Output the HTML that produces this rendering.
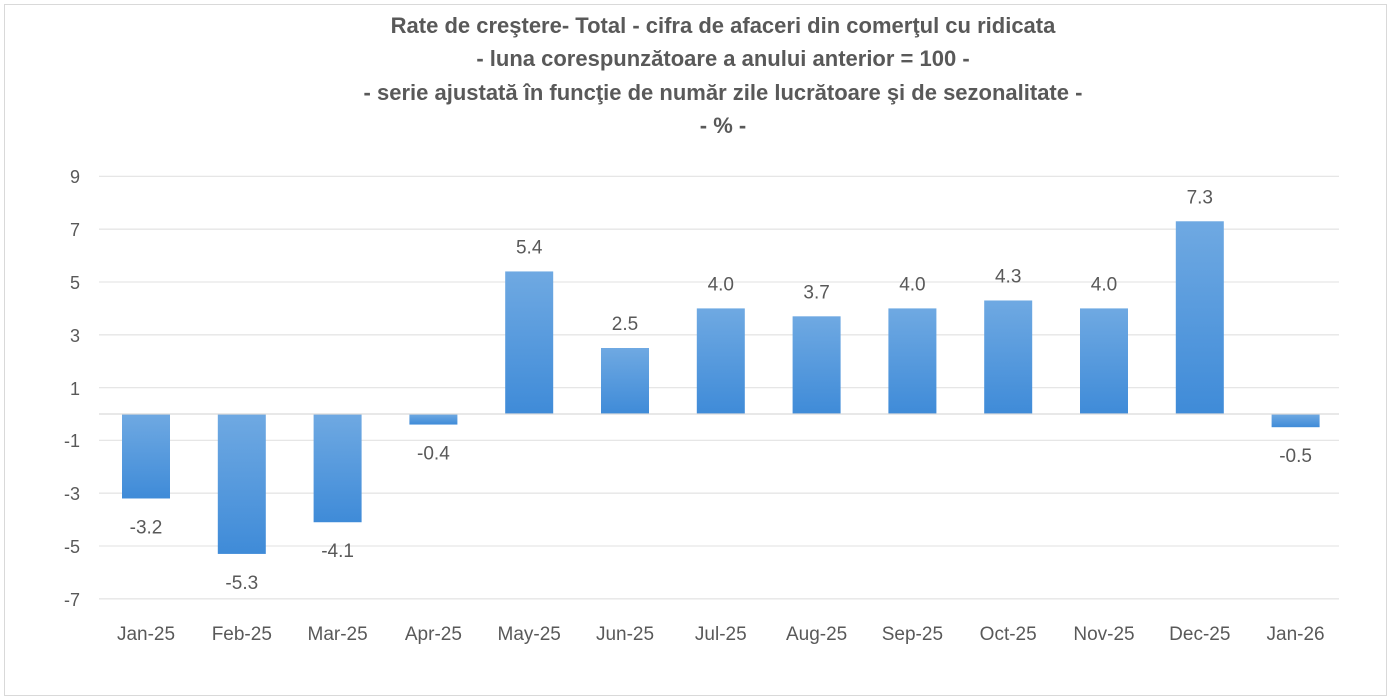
<!DOCTYPE html>
<html><head><meta charset="utf-8"><style>
body{margin:0;background:#fff;}
svg{display:block;font-family:"Liberation Sans",sans-serif;}
</style></head><body>
<svg width="1391" height="700" viewBox="0 0 1391 700" xmlns="http://www.w3.org/2000/svg">
<defs><linearGradient id="g" x1="0" y1="0" x2="0" y2="1"><stop offset="0" stop-color="#6fa9e2"/><stop offset="1" stop-color="#3f8bd8"/></linearGradient>
<linearGradient id="gn" x1="0" y1="1" x2="0" y2="0"><stop offset="0" stop-color="#3f8bd8"/><stop offset="1" stop-color="#6fa9e2"/></linearGradient></defs>
<rect x="4.5" y="4.5" width="1382" height="691" fill="#fff" stroke="#d9d9d9"/>
<g font-weight="bold" fill="#595959" font-size="22" text-anchor="middle">
<text x="723" y="33">Rate de creştere- Total - cifra de afaceri din comerţul cu ridicata</text>
<text x="723" y="66">- luna corespunzătoare a anului anterior = 100 -</text>
<text x="723" y="100">- serie ajustată în funcţie de număr zile lucrătoare şi de sezonalitate -</text>
<text x="723" y="133">- % -</text>
</g>
<g stroke="#e6e6e6" stroke-width="1.3">
<line x1="99" x2="1339" y1="176.4" y2="176.4"/><line x1="99" x2="1339" y1="229.2" y2="229.2"/>
<line x1="99" x2="1339" y1="282" y2="282"/><line x1="99" x2="1339" y1="334.8" y2="334.8"/>
<line x1="99" x2="1339" y1="387.6" y2="387.6"/><line x1="99" x2="1339" y1="440.4" y2="440.4"/>
<line x1="99" x2="1339" y1="493.2" y2="493.2"/><line x1="99" x2="1339" y1="546" y2="546"/>
<line x1="99" x2="1339" y1="598.8" y2="598.8"/>
</g>
<g fill="#595959" font-size="18" text-anchor="end">
<text x="80" y="183">9</text><text x="80" y="236">7</text><text x="80" y="289">5</text><text x="80" y="342">3</text><text x="80" y="395">1</text><text x="80" y="447">-1</text><text x="80" y="500">-3</text><text x="80" y="553">-5</text><text x="80" y="606">-7</text>
</g>
<g id="bars"></g>
<line x1="99" x2="1339" y1="414" y2="414" stroke="#d9d9d9" stroke-width="1.3"/>
<g id="lbl" fill="#595959" font-size="19" text-anchor="middle"></g>
</svg>
<script>
var vals=[-3.2,-5.3,-4.1,-0.4,5.4,2.5,4.0,3.7,4.0,4.3,4.0,7.3,-0.5];
var cats=["Jan-25","Feb-25","Mar-25","Apr-25","May-25","Jun-25","Jul-25","Aug-25","Sep-25","Oct-25","Nov-25","Dec-25","Jan-26"];
var ns="http://www.w3.org/2000/svg",b=document.getElementById("bars"),l=document.getElementById("lbl");
function el(p,t,a,txt){var e=document.createElementNS(ns,t);for(var k in a)e.setAttribute(k,a[k]);if(txt)e.textContent=txt;p.appendChild(e);}
vals.forEach(function(v,i){var cx=146+95.8*i,h=Math.abs(v)*26.4,y=v>=0?414-h:414;
el(b,"rect",{x:cx-24,y:y,width:48,height:h,fill:v>=0?"url(#g)":"url(#gn)"});
var ty=v>=0?414-h-18:414+h+35;
el(l,"text",{x:cx,y:ty},v.toFixed(1));
el(l,"text",{x:cx,y:640},cats[i]);});
</script>
</body></html>
